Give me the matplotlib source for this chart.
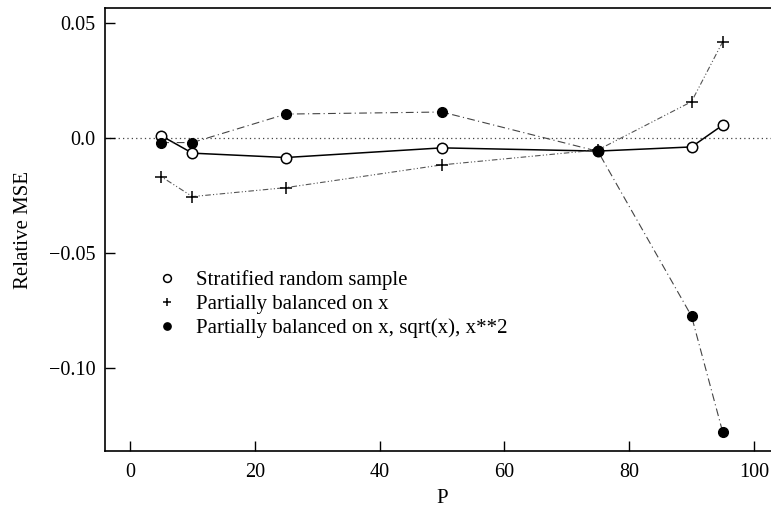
import numpy as np
import matplotlib.pyplot as plt
from matplotlib.ticker import FixedLocator, FixedFormatter

plt.rcParams['font.family'] = ['Liberation Serif', 'DejaVu Serif']

# sampling fraction P
p = [5, 10, 25, 50, 75, 90, 95]
strat = [0.001, -0.0066, -0.0085, -0.0043, -0.0057, -0.0039, 0.0056]
bal_x = [-0.0168, -0.0255, -0.0216, -0.0117, -0.0052, 0.0158, 0.0419]
bal_x3 = [-0.0020, -0.0020, 0.0104, 0.0113, -0.0058, -0.0775, -0.1280]

yticks = [0.05, 0.0, -0.05, -0.10]
ytick_labels = ['0.05', '0.0', '\u22120.05', '\u22120.10']
xticks = [0, 20, 40, 60, 80, 100]

fig = plt.figure(figsize=(7.71, 5.09), dpi=100)
ax = fig.add_axes([0.1362, 0.114, 0.874, 0.870])

ax.axhline(0, color='#444444', lw=0.9, ls=(0, (1, 2.5)), zorder=1)

ax.plot(p, strat, color='black', lw=1.1, zorder=2)
ax.plot(p, strat, 'o', mfc='white', mec='black', mew=1.1, ms=7.5, zorder=4,
        label='Stratified random sample', ls='none')

ax.plot(p, bal_x, color='#555555', lw=0.8, ls=(0, (1, 2, 1, 2, 5, 2)), zorder=2)
ax.plot(p, bal_x, '+', color='black', mew=1.1, ms=8, zorder=4,
        label='Partially balanced on x', ls='none')

ax.plot(p, bal_x3, color='#444444', lw=0.8, ls=(0, (7, 3, 1, 3)), zorder=2)
ax.plot(p, bal_x3, 'o', color='black', ms=7, zorder=4,
        label='Partially balanced on x, sqrt(x), x**2', ls='none')

ax.set_xlim(-4, 104)
ax.set_ylim(-0.1362, 0.0565)

ax.xaxis.set_major_locator(FixedLocator(xticks))
ax.yaxis.set_major_locator(FixedLocator(yticks))
ax.yaxis.set_major_formatter(FixedFormatter(ytick_labels))

ax.tick_params(direction='in', length=7, width=1, labelsize=14.5, pad=7)
ax.tick_params(axis='x', pad=9)
ax.spines['right'].set_visible(False)
for s in ax.spines.values():
    s.set_linewidth(1.2)

ax.set_xlabel('P', fontsize=15, labelpad=5)
ax.set_ylabel('Relative MSE', fontsize=15, labelpad=11)

ax.legend(loc='upper left', bbox_to_anchor=(0.049, 0.45), frameon=False,
          fontsize=15, handlelength=1.0, handletextpad=0.9, labelspacing=0.2,
          markerscale=0.75)

fig.savefig('out.png', dpi=100)
